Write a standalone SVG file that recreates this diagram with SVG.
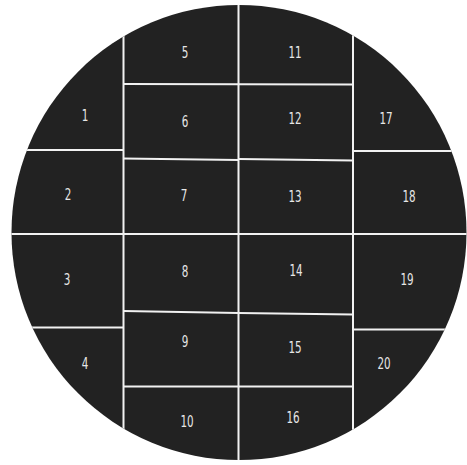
<svg xmlns="http://www.w3.org/2000/svg" width="467" height="465" viewBox="0 0 467 465">
<style>
.grid line{stroke:#f2f2f2;stroke-width:2}
.lbl{font-family:"DejaVu Sans Condensed","DejaVu Sans",sans-serif;font-size:16px;fill:#e6e6e6;text-anchor:middle;dominant-baseline:central}
</style>
<defs>
<clipPath id="c"><circle cx="239" cy="232.5" r="227.5"/></clipPath>
</defs>
<rect width="467" height="465" fill="#fff"/>
<circle cx="239" cy="232.5" r="227.5" fill="#222"/>
<g id="connectors" class="grid" clip-path="url(#c)">
<line x1="123.5" y1="0" x2="123.5" y2="465"/>
<line x1="238.5" y1="0" x2="238.5" y2="465"/>
<line x1="353" y1="0" x2="353" y2="465"/>
<line x1="0" y1="150" x2="123.5" y2="150"/>
<line x1="0" y1="234" x2="467" y2="234"/>
<line x1="0" y1="327.5" x2="123.5" y2="327.5"/>
<line x1="123.5" y1="84" x2="353" y2="84.5"/>
<line x1="123.5" y1="158.5" x2="238.5" y2="160"/>
<line x1="238.5" y1="159" x2="353" y2="160.5"/>
<line x1="123.5" y1="311" x2="238.5" y2="313"/>
<line x1="238.5" y1="313" x2="353" y2="314.5"/>
<line x1="123.5" y1="386.5" x2="353" y2="386.5"/>
<line x1="353" y1="151" x2="467" y2="151"/>
<line x1="353" y1="329.5" x2="467" y2="329.5"/>
</g>
<g id="n1"><text class="lbl" transform="translate(85 115) scale(0.72 1)">1</text></g>
<g id="n2"><text class="lbl" transform="translate(68 194) scale(0.72 1)">2</text></g>
<g id="n3"><text class="lbl" transform="translate(67 279) scale(0.72 1)">3</text></g>
<g id="n4"><text class="lbl" transform="translate(85 363) scale(0.72 1)">4</text></g>
<g id="n5"><text class="lbl" transform="translate(185 52) scale(0.72 1)">5</text></g>
<g id="n6"><text class="lbl" transform="translate(185 121) scale(0.72 1)">6</text></g>
<g id="n7"><text class="lbl" transform="translate(184 195) scale(0.72 1)">7</text></g>
<g id="n8"><text class="lbl" transform="translate(185 271) scale(0.72 1)">8</text></g>
<g id="n9"><text class="lbl" transform="translate(185 341) scale(0.72 1)">9</text></g>
<g id="n10"><text class="lbl" transform="translate(187 421) scale(0.72 1)">10</text></g>
<g id="n11"><text class="lbl" transform="translate(295 52) scale(0.72 1)">11</text></g>
<g id="n12"><text class="lbl" transform="translate(295 118) scale(0.72 1)">12</text></g>
<g id="n13"><text class="lbl" transform="translate(295 196) scale(0.72 1)">13</text></g>
<g id="n14"><text class="lbl" transform="translate(296 270) scale(0.72 1)">14</text></g>
<g id="n15"><text class="lbl" transform="translate(295 347) scale(0.72 1)">15</text></g>
<g id="n16"><text class="lbl" transform="translate(293 417) scale(0.72 1)">16</text></g>
<g id="n17"><text class="lbl" transform="translate(386 118) scale(0.72 1)">17</text></g>
<g id="n18"><text class="lbl" transform="translate(409 196) scale(0.72 1)">18</text></g>
<g id="n19"><text class="lbl" transform="translate(407 279) scale(0.72 1)">19</text></g>
<g id="n20"><text class="lbl" transform="translate(384 363) scale(0.72 1)">20</text></g>
</svg>
